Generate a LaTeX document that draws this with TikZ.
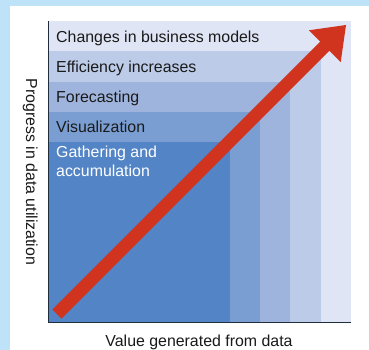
\documentclass[tikz,border=0pt]{standalone}
\usepackage{fontspec}
\setmainfont{Liberation Sans}
\definecolor{bgblue}{HTML}{BEE3F8}
\definecolor{bandA}{HTML}{DFE5F4}
\definecolor{bandB}{HTML}{BCCBE8}
\definecolor{bandC}{HTML}{9FB4DC}
\definecolor{bandD}{HTML}{7A9ED2}
\definecolor{bandE}{HTML}{5385C6}
\definecolor{arrowred}{HTML}{D0341F}
\definecolor{axisdark}{HTML}{1F2D3D}
\definecolor{txt}{HTML}{1A1A1A}
\tikzset{
  band/.style={draw=none},
  bandlabel/.style={anchor=base west, inner sep=0pt, font=\fontsize{15.9}{18.3}\selectfont, text=txt, align=left},
  axislabel/.style={inner sep=0pt, font=\fontsize{15.9}{18.3}\selectfont, text=txt},
  axisline/.style={draw=axisdark, line width=1.8pt}
}
\begin{document}
\begin{tikzpicture}[x=1pt,y=-1pt]
\useasboundingbox (0,0) rectangle (369,350);
\fill[bgblue] (0,0) rectangle (369,350);
\fill[white] (10,6) rectangle (369,350);
% bands
\fill[bandA] (48,21) rectangle (351,323);
\fill[bandB] (48,51) rectangle (321,323);
\fill[bandC] (48,82) rectangle (290,323);
\fill[bandD] (48,112) rectangle (260,323);
\fill[bandE] (48,142) rectangle (230,323);
% labels
\node[bandlabel] (lA) at (56,42.3) {Changes in business models};
\node[bandlabel] (lB) at (56,72.3) {Efficiency increases};
\node[bandlabel] (lC) at (56,102.7) {Forecasting};
\node[bandlabel] (lD) at (56,132.7) {Visualization};
\node[bandlabel, text=white] (lE) at (56,176) {Gathering and\\accumulation};
% arrow
\fill[arrowred] (61.6,318.6) -- (52.4,309.4) -- (320.2,41.6) -- (308.9,30.3) -- (346,25) -- (340.7,62.1) -- (329.4,50.8) -- cycle;
% axes
\coordinate (origin) at (48.5,322.5);
\coordinate (ytop) at (48.5,21);
\coordinate (xend) at (351,322.5);
\draw[axisline] (ytop) -- (origin) -- (xend);
% axis labels
\node[axislabel, anchor=base] (xl) at (199,346) {Value generated from data};
\node[axislabel, anchor=base, rotate=-90] (yl) at (26,172) {Progress in data utilization};
\end{tikzpicture}
\end{document}
